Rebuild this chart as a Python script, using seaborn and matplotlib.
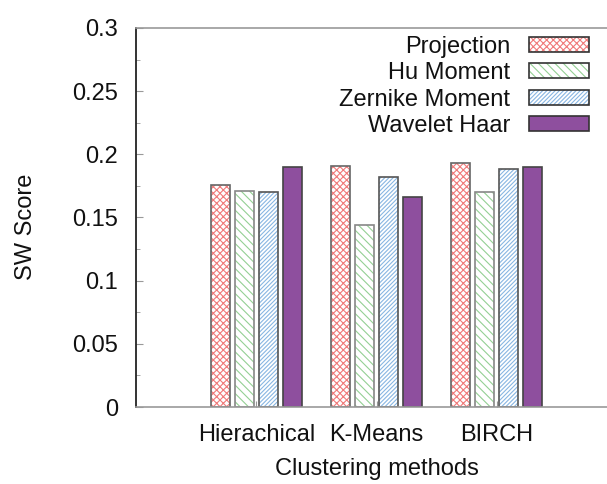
import matplotlib
matplotlib.use("Agg")
import matplotlib.pyplot as plt
import seaborn as sns
import pandas as pd
from matplotlib.patches import Patch, Rectangle
from matplotlib.legend_handler import HandlerTuple
from matplotlib.ticker import MultipleLocator

methods = ["Hierachical", "K-Means", "BIRCH"]
features = ["Projection", "Hu Moment", "Zernike Moment", "Wavelet Haar"]
projection = [0.176, 0.191, 0.193]
hu_moment = [0.171, 0.144, 0.170]
zernike_moment = [0.170, 0.182, 0.188]
wavelet_haar = [0.190, 0.166, 0.190]

series = [projection, hu_moment, zernike_moment, wavelet_haar]
rows = []
for f, vals in zip(features, series):
    for m, v in zip(methods, vals):
        rows.append({"method": m, "feature": f, "score": v})
df = pd.DataFrame(rows)

hatch_colors = ["#f07a7a", "#94cf94", "#88b6e2", "#8e4f9e"]
face_colors = ["white", "white", "white", "#8e4f9e"]
hatches = ["xxxxx", "\\\\\\\\", "////////", ""]
outline_colors = ["#666666", "#888888", "#555555", "#444444"]

FS = 17

sns.set_style("white")
plt.rcParams["font.family"] = ["Liberation Sans", "DejaVu Sans"]
plt.rcParams["hatch.linewidth"] = 0.8

fig = plt.figure(figsize=(6.07, 4.84), dpi=100)
ax = fig.add_axes([136 / 607, 77 / 484, 481 / 607, 379 / 484])

sns.barplot(data=df, x="method", y="score", hue="feature", order=methods,
            hue_order=features, palette=hatch_colors, width=0.8, gap=0.22,
            legend=False, ax=ax)

for cont, h, hc, fc, oc in zip(ax.containers, hatches, hatch_colors, face_colors, outline_colors):
    for bar in cont:
        bar.set_facecolor(fc)
        bar.set_edgecolor(hc)
        bar.set_hatch(h)
        bar.set_linewidth(0)
        ax.add_patch(Rectangle(bar.get_xy(), bar.get_width(), bar.get_height(),
                               fill=False, edgecolor=oc, linewidth=1.2, zorder=bar.get_zorder() + 0.1))

ax.set_xlim(-1, 3)
ax.set_ylim(0, 0.3)
ax.yaxis.set_major_locator(MultipleLocator(0.05))
ax.yaxis.set_minor_locator(MultipleLocator(0.025))
ax.set_yticks([0, 0.05, 0.1, 0.15, 0.2, 0.25, 0.3])
ax.set_yticklabels(["0", "0.05", "0.1", "0.15", "0.2", "0.25", "0.3"])

ax.tick_params(axis="y", which="both", direction="in", left=True, length=5,
               color="#999999", labelsize=FS, pad=13, labelcolor="#111111")
ax.tick_params(axis="y", which="minor", length=3)
ax.tick_params(axis="x", direction="in", bottom=True, length=4, color="#999999",
               labelsize=FS, pad=12, labelcolor="#111111")

for s in ["top", "bottom"]:
    ax.spines[s].set_color("#999999")
    ax.spines[s].set_linewidth(1.2)
ax.spines["left"].set_color("#111111")
ax.spines["left"].set_linewidth(1.2)
ax.spines["right"].set_visible(False)

ax.set_xlabel("Clustering methods", fontsize=FS, labelpad=9, color="#111111")
ax.set_ylabel("SW Score", fontsize=FS, color="#111111")
ax.yaxis.set_label_coords(-0.206, 0.475)

handles = []
for h, hc, fc in zip(hatches, hatch_colors, face_colors):
    p1 = Patch(facecolor=fc, edgecolor=hc, hatch=h, linewidth=0)
    p2 = Patch(fill=False, edgecolor="#333333", linewidth=1.2)
    handles.append((p1, p2))

leg = ax.legend(handles, features, handler_map={tuple: HandlerTuple(ndivide=1, pad=0)},
                loc="upper right", bbox_to_anchor=(589 / 607, 1 - 36 / 484),
                bbox_transform=fig.transFigure, frameon=False, markerfirst=False,
                fontsize=FS, handlelength=2.55, handleheight=0.6,
                handletextpad=0.8, labelspacing=0.18, borderpad=0, borderaxespad=0)
for t in leg.get_texts():
    t.set_color("#111111")

fig.savefig("out.png", dpi=100)
